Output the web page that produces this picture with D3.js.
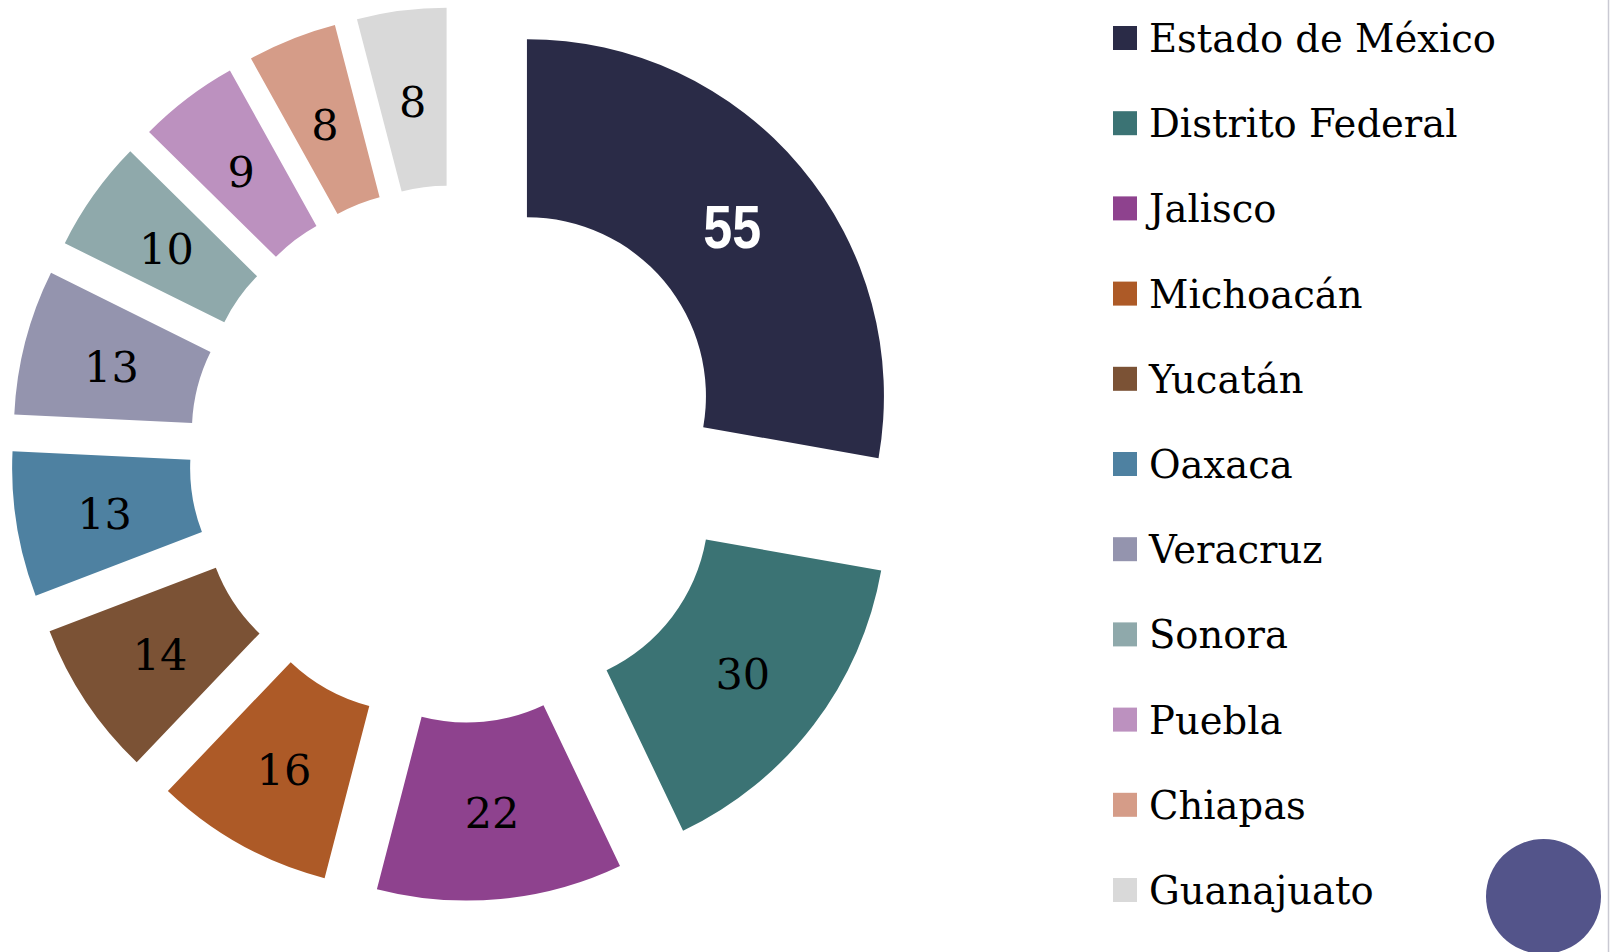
<!DOCTYPE html>
<html>
<head>
<meta charset="utf-8">
<script src="https://cdn.jsdelivr.net/npm/d3@7/dist/d3.min.js"></script>
<style>
  body { margin: 0; background: #fff; }
</style>
</head>
<body>
<div id="container"></div>
<script>
let w = 1610;
let h = 952;

// data
let estados = ["Estado de México", "Distrito Federal", "Jalisco", "Michoacán", "Yucatán",
  "Oaxaca", "Veracruz", "Sonora", "Puebla", "Chiapas", "Guanajuato"];
let valores = [55, 30, 22, 16, 14, 13, 13, 10, 9, 8, 8];
let colores = ["#2a2b47", "#3b7374", "#8e428e", "#ad5a27", "#7b5235", "#4e81a1",
  "#9494ae", "#8fa9ab", "#bc91bf", "#d59c88", "#d9d9d9"];

let cx = 458;
let cy = 454;
let outerR = 357;
let innerR = 179;
let explode = 90;

let svg = d3.select("#container")
  .append("svg")
  .attr("width", w)
  .attr("height", h)
  .style("display", "block");

let color = d3.scaleOrdinal(estados, colores);

let pie = d3.pie().sort(null).value(d => d.v);
let arc = d3.arc().innerRadius(innerR).outerRadius(outerR);

let datos = estados.map((e, i) => ({ name: e, v: valores[i] }));
let arcs = pie(datos);

let donut = svg.append("g").attr("transform", "translate(" + cx + "," + cy + ")");

// each slice pushed out along its middle angle
function shift(d) {
  let mid = (d.startAngle + d.endAngle) / 2;
  return "translate(" + (Math.sin(mid) * explode) + "," + (-Math.cos(mid) * explode) + ")";
}

let slices = donut.selectAll(".slice")
  .data(arcs)
  .enter()
  .append("g")
  .attr("class", "slice")
  .attr("transform", shift);

slices.append("path")
  .attr("d", arc)
  .attr("fill", d => color(d.data.name));

// first slice: white bold narrow label
slices.filter((d, i) => i == 0)
  .append("text")
  .attr("transform", d => "translate(" + arc.centroid(d)[0] + "," + (arc.centroid(d)[1] + 2) + ") scale(0.84,1)")
  .attr("text-anchor", "middle")
  .attr("dominant-baseline", "central")
  .attr("font-family", "'Liberation Sans', Arial, sans-serif")
  .attr("font-weight", "bold")
  .attr("font-size", "62px")
  .attr("fill", "#ffffff")
  .text(d => d.data.v);

slices.filter((d, i) => i > 0)
  .append("text")
  .attr("x", d => arc.centroid(d)[0])
  .attr("y", d => arc.centroid(d)[1] + 3)
  .attr("text-anchor", "middle")
  .attr("dominant-baseline", "central")
  .attr("font-family", "'DejaVu Serif', serif")
  .attr("font-size", "43px")
  .attr("fill", "#000000")
  .text(d => d.data.v);

// legend
let legendY = d3.scalePoint().domain(estados).range([38, 890]);

let legend = svg.selectAll(".legend")
  .data(estados)
  .enter()
  .append("g")
  .attr("class", "legend")
  .attr("transform", d => "translate(1113," + legendY(d) + ")");

legend.append("rect")
  .attr("x", 0)
  .attr("y", -12)
  .attr("width", 24)
  .attr("height", 24)
  .attr("fill", d => color(d));

legend.append("text")
  .attr("x", 36)
  .attr("y", 14)
  .attr("font-family", "'DejaVu Serif', serif")
  .attr("font-size", "38.5px")
  .attr("fill", "#000")
  .text(d => d);

// slide decoration
svg.append("circle")
  .attr("cx", 1543.5)
  .attr("cy", 896.5)
  .attr("r", 57.5)
  .attr("fill", "#53548a");

svg.append("line")
  .attr("x1", 1608.5).attr("x2", 1608.5)
  .attr("y1", 0).attr("y2", h)
  .attr("stroke", "#c9c9d3")
  .attr("stroke-width", 1.5);
</script>
</body>
</html>
